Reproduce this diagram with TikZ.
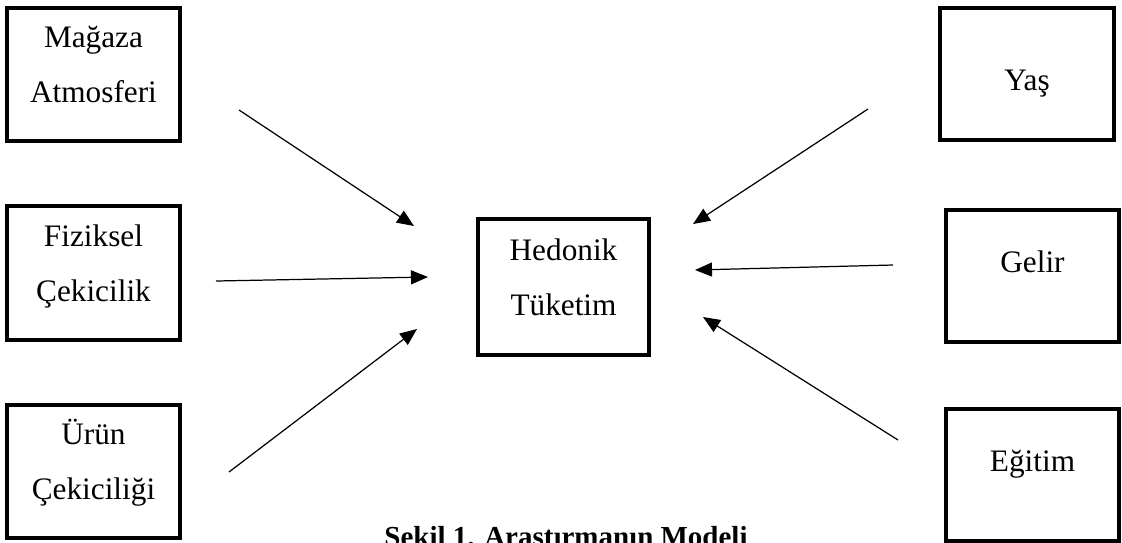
\documentclass[tikz,border=0pt]{standalone}
\usepackage{fontspec}
\setmainfont{Liberation Serif}
\usepackage{tikz}
\usetikzlibrary{shapes,arrows.meta}
\tikzstyle{block} = [draw, rectangle, line width=2.1pt, inner sep=0pt, align=center, font=\fontsize{17.8}{31.3}\selectfont]
\tikzstyle{factor} = [block, text width=3.47cm, text height=0.8cm, text depth=1.87cm]
\tikzstyle{result} = [block, text width=3.42cm, text height=0.83cm, text depth=1.9cm]
\tikzstyle{single} = [block, text width=3.47cm, text height=1.26cm, text depth=1.39cm]
\tikzstyle{caption} = [inner sep=0pt, font=\fontsize{16.5}{20}\selectfont\bfseries]

\begin{document}
\begin{tikzpicture}[x=0.02cm, y=-0.02cm, node distance=3.97cm, >={Triangle[length=0.34cm, width=0.28cm]}]
    \useasboundingbox (0,0) rectangle (1122,542);
    \clip (0,0) rectangle (1122,542);

    % left column
    \node [factor] (magaza) at (93.5,74.5) {Mağaza\\Atmosferi};
    \node [factor, below of = magaza] (fiziksel) {Fiziksel\\Çekicilik};
    \node [factor, below of = fiziksel] (urun) {Ürün\\Çekiciliği};

    % centre
    \node [result] (hedonik) at (563.5,287) {Hedonik\\Tüketim};

    % right column
    \node [single, text height=1.66cm, text depth=0.99cm, xshift=-0.11cm] (yas) at (1032.5,74) {Yaş};
    \node [single, below of = yas, node distance=4.04cm, xshift=0.11cm] (gelir) {Gelir};
    \node [single, below of = gelir, node distance=3.98cm] (egitim) {Eğitim};

    \node [caption, anchor=base] (sekil) at (566,546) {Şekil 1. Araştırmanın Modeli};

    % arrow ends
    \coordinate (magout) at (239,110);
    \coordinate (fizout) at (216,281);
    \coordinate (urunout) at (229,472);
    \coordinate (yasout) at (868,109);
    \coordinate (gelout) at (893,265);
    \coordinate (egiout) at (898,440);
    \coordinate (hedin1) at (414,226);
    \coordinate (hedin2) at (428,277);
    \coordinate (hedin3) at (417,329);
    \coordinate (hedin4) at (693,224);
    \coordinate (hedin5) at (695,270);
    \coordinate (hedin6) at (703,317);

    \draw [->, line width=0.7pt] (magout) -- (hedin1);
    \draw [->, line width=0.7pt] (fizout) -- (hedin2);
    \draw [->, line width=0.7pt] (urunout) -- (hedin3);
    \draw [->, line width=0.7pt] (yasout) -- (hedin4);
    \draw [->, line width=0.7pt] (gelout) -- (hedin5);
    \draw [->, line width=0.7pt] (egiout) -- (hedin6);
\end{tikzpicture}
\end{document}
